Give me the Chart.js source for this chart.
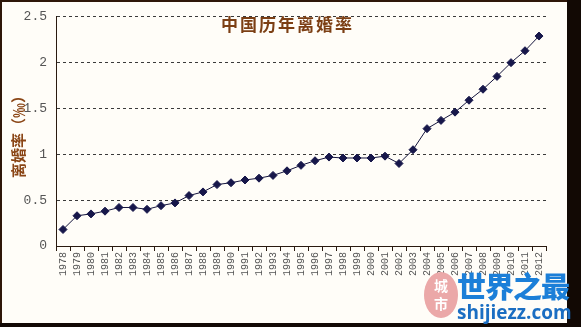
<!DOCTYPE html>
<html>
<head>
<meta charset="utf-8">
<script src="https://cdn.jsdelivr.net/npm/chart.js@4"></script>
<style>
  html, body { margin: 0; padding: 0; background: #1a0d06; }
  #wrap { position: relative; width: 581px; height: 327px; overflow: hidden; background: #120904; }
  #frame { position: absolute; left: 0; top: 0; width: 567px; height: 323px; background: #fffdf8; }
  #edge { position: absolute; left: 0; top: 0; width: 565px; height: 321px; border-top: 2px solid #2e1709; border-left: 2px solid #2e1709; pointer-events: none; }
  #chart { position: absolute; left: 0; top: 0; }
  #title { position: absolute; left: 221px; top: 11px; font: bold 17px "Noto Sans CJK SC"; letter-spacing: 2px; color: #7c3f14; white-space: nowrap; }
  #ytitle { position: absolute; left: 17px; top: 133px; transform: translate(-50%, -50%) rotate(-90deg); font: bold 15px "Noto Sans CJK SC"; color: #8a4515; white-space: nowrap; }
  #seal { position: absolute; left: 424px; top: 272px; width: 34px; height: 46px; border-radius: 50%; background: #eba8a8; color: #fff; font: bold 14px "Noto Sans CJK SC"; line-height: 18px; text-align: center; padding-top: 4px; box-sizing: border-box; }
  #logo { position: absolute; left: 457px; top: 264px; font: 900 29px "Noto Sans CJK SC"; color: #1c7fd8; letter-spacing: -1px; white-space: nowrap; }
  #site { position: absolute; left: 457px; top: 299px; font: bold 19px "Open Sans"; color: #1b6ec2; white-space: nowrap; }
</style>
</head>
<body>
<div id="wrap">
  <div id="frame"></div>
  <canvas id="chart" width="567" height="323"></canvas>
  <div id="edge"></div>
  <div id="title">中国历年离婚率</div>
  <div id="ytitle">离婚率（‰）</div>
  <div id="seal">城<br>市</div>
  <div id="logo">世界之最</div>
  <div id="site">shijiezz.com</div>
</div>
<script>
// 年份
const years = [
  '1978', '1979', '1980', '1981', '1982', '1983', '1984', '1985', '1986', '1987',
  '1988', '1989', '1990', '1991', '1992', '1993', '1994', '1995', '1996', '1997',
  '1998', '1999', '2000', '2001', '2002', '2003', '2004', '2005', '2006', '2007',
  '2008', '2009', '2010', '2011', '2012'
];
// 离婚率（‰）
const divorceRate = [
  0.18, 0.33, 0.35, 0.38, 0.42, 0.42, 0.40, 0.44, 0.47, 0.55,
  0.59, 0.67, 0.69, 0.72, 0.74, 0.77, 0.82, 0.88, 0.93, 0.97,
  0.96, 0.96, 0.96, 0.98, 0.90, 1.05, 1.28, 1.37, 1.46, 1.59,
  1.71, 1.85, 2.00, 2.13, 2.29
];
const yTicks = [0, 0.5, 1, 1.5, 2, 2.5];

const canvasH = 323;

new Chart(document.getElementById('chart'), {
  type: 'line',
  data: {
    labels: years,
    datasets: [{
      data: divorceRate,
      borderColor: '#14143c',
      borderWidth: 1,
      pointStyle: 'rectRot',
      pointRadius: 4,
      pointBackgroundColor: '#17174a',
      pointBorderColor: '#17174a',
      tension: 0,
    }],
  },
  options: {
    responsive: false,
    animation: false,
    layout: { padding: { top: 13, right: 21, left: 0, bottom: 0 } },
    plugins: { legend: { display: false }, tooltip: { enabled: false } },
    scales: {
      x: {
        offset: true,
        grid: { offset: true, drawOnChartArea: false, drawTicks: true, tickLength: 5, color: '#2a1a10' },
        border: { display: true, color: '#2a1a10', width: 1 },
        ticks: {
          minRotation: 90, maxRotation: 90, autoSkip: false, padding: 1,
          color: '#555', font: { family: 'Liberation Mono', size: 10 },
        },
        afterFit: (s) => { s.height = canvasH - 246; },
      },
      y: {
        min: 0, max: 2.5,
        afterBuildTicks: (s) => { s.ticks = yTicks.map(v => ({ value: v })); },
        grid: { color: '#3a3a3a', drawTicks: false },
        border: { display: true, color: '#2a1a10', width: 1, dash: [3, 3] },
        ticks: {
          padding: 9, color: '#555',
          font: { family: 'Liberation Mono', size: 13 },
          callback: (v) => String(v),
        },
        afterFit: (s) => { s.width = 56; },
      },
    },
  },
  plugins: [{
    id: 'solidYAxis',
    afterDraw(chart) {
      // 纵轴画成实线（网格是虚线）
      const { ctx, chartArea } = chart;
      ctx.save();
      ctx.strokeStyle = '#2a1a10';
      ctx.lineWidth = 1;
      ctx.beginPath();
      ctx.moveTo(chartArea.left + 0.5, chartArea.top);
      ctx.lineTo(chartArea.left + 0.5, chartArea.bottom);
      ctx.stroke();
      ctx.restore();
    },
  }],
});
</script>
</body>
</html>
